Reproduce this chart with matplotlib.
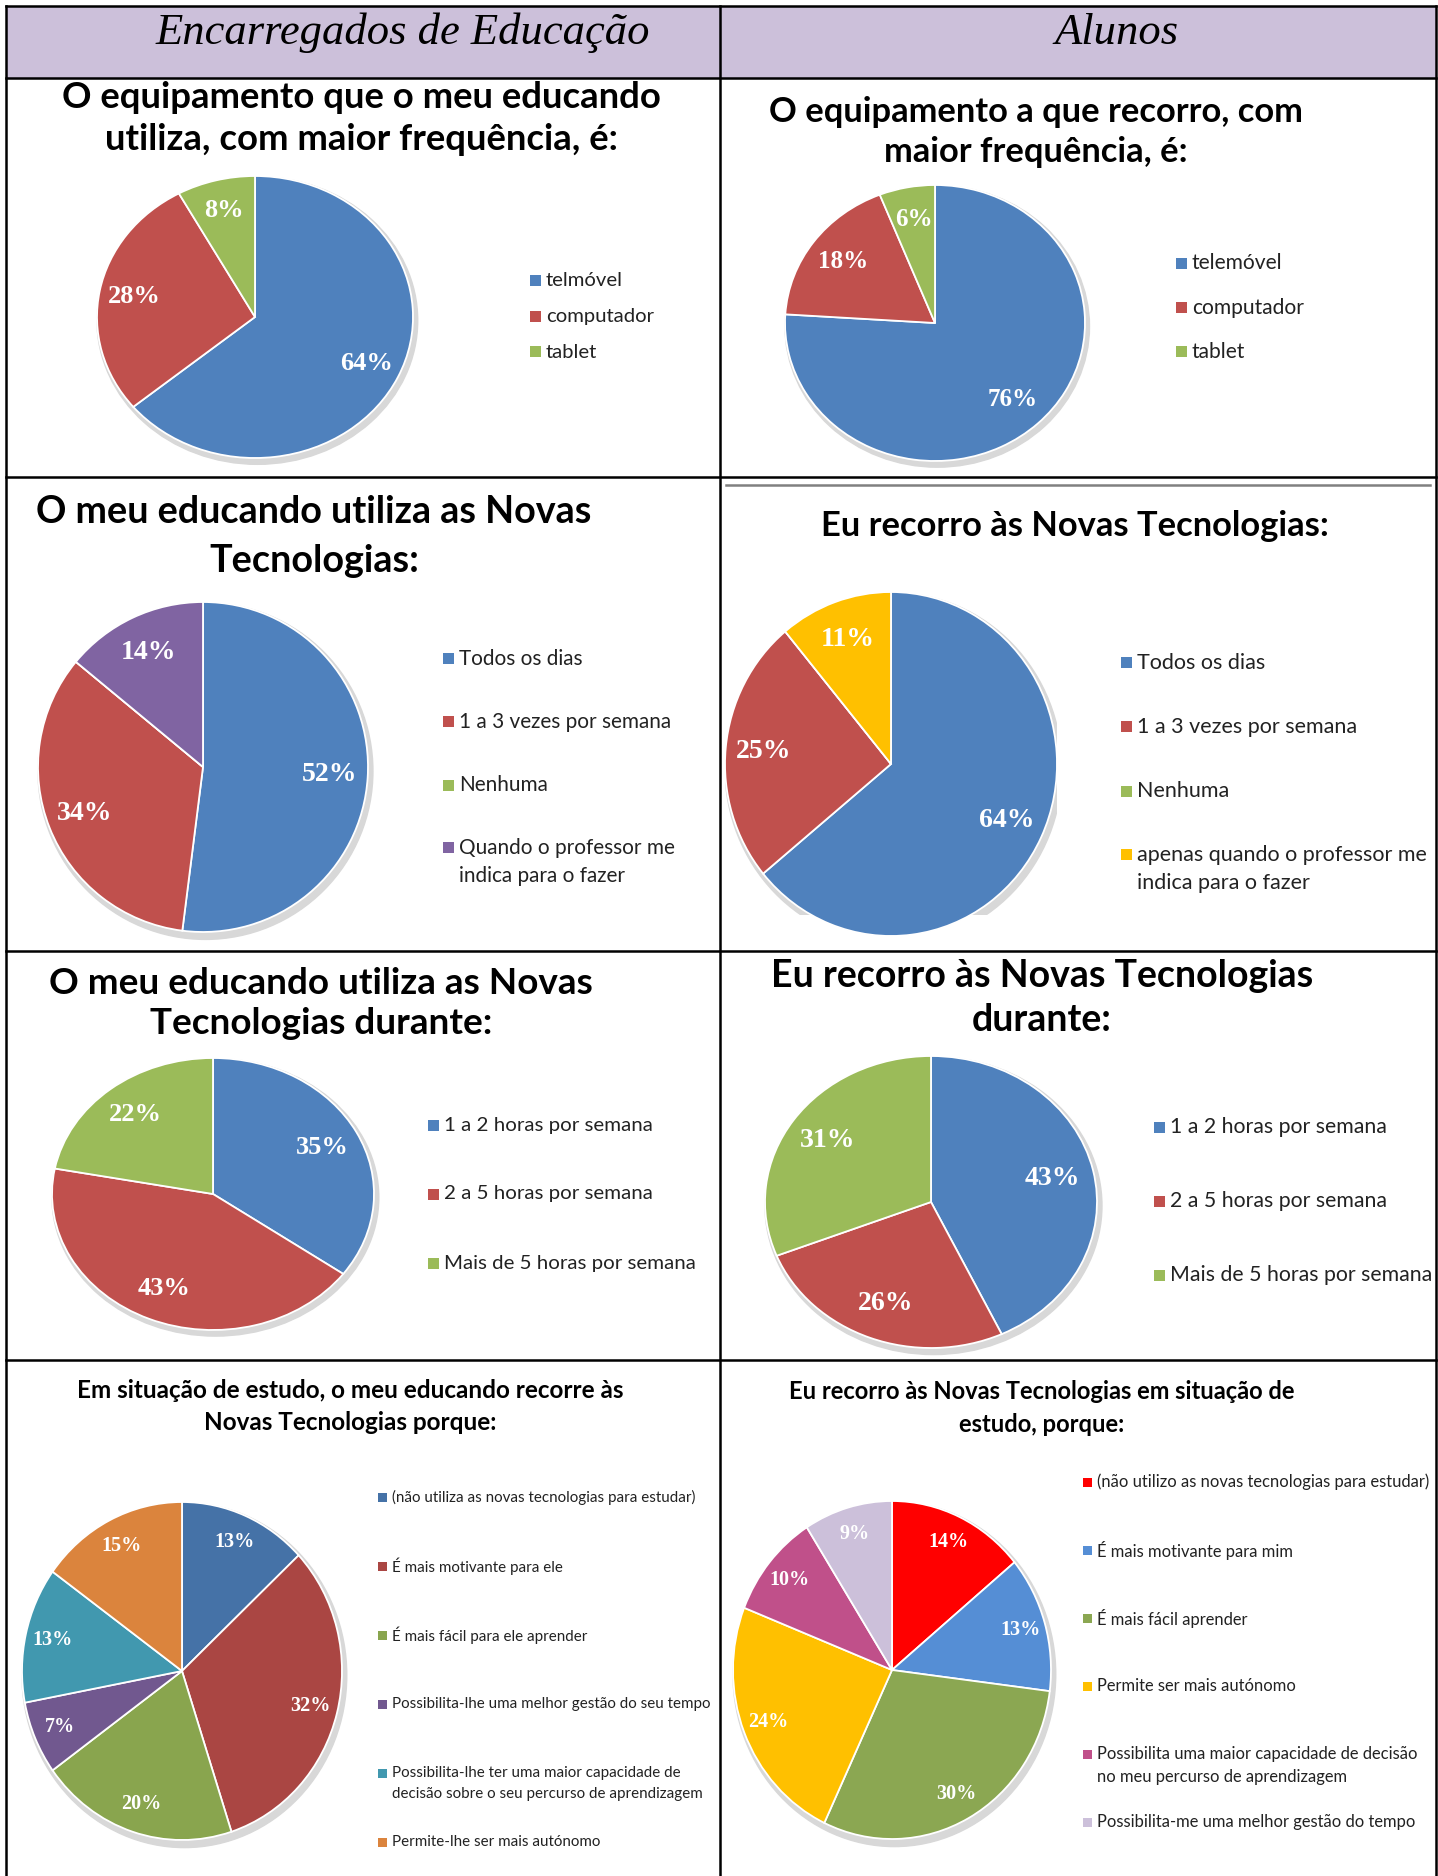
import matplotlib
matplotlib.use('Agg')
import matplotlib.pyplot as plt
from matplotlib.patches import Rectangle, Ellipse
from matplotlib.lines import Line2D
import numpy as np

W, H = 1438, 1876

# ---- dados ----
equip_ee_labels = ['telmóvel', 'computador', 'tablet']
equip_ee_values = [64, 28, 8]
equip_al_labels = ['telemóvel', 'computador', 'tablet']
equip_al_values = [76, 18, 6]

freq_ee_labels = ['Todos os dias', '1 a 3 vezes por semana', 'Nenhuma',
                  'Quando o professor me\nindica para o fazer']
freq_ee_values = [52, 34, 0, 14]
freq_al_labels = ['Todos os dias', '1 a 3 vezes por semana', 'Nenhuma',
                  'apenas quando o professor me\nindica para o fazer']
freq_al_values = [64, 25, 0, 11]

dur_labels = ['1 a 2 horas por semana', '2 a 5 horas por semana', 'Mais de 5 horas por semana']
dur_ee_values = [35, 43, 22]
dur_al_values = [43, 26, 31]

estudo_ee_labels = ['(não utiliza as novas tecnologias para estudar)',
                    'É mais motivante para ele',
                    'É mais fácil para ele aprender',
                    'Possibilita-lhe uma melhor gestão do seu tempo',
                    'Possibilita-lhe ter uma maior capacidade de\ndecisão sobre o seu percurso de aprendizagem',
                    'Permite-lhe ser mais autónomo']
estudo_ee_values = [13, 32, 20, 7, 13, 15]
estudo_al_labels = ['(não utilizo as novas tecnologias para estudar)',
                    'É mais motivante para mim',
                    'É mais fácil aprender',
                    'Permite ser mais autónomo',
                    'Possibilita uma maior capacidade de decisão\nno meu percurso de aprendizagem',
                    'Possibilita-me uma melhor gestão do tempo']
estudo_al_values = [14, 13, 30, 24, 10, 9]

# cores
c3 = ['#4F81BD', '#C0504D', '#9BBB59']
c4_ee = ['#4F81BD', '#C0504D', '#9BBB59', '#8064A2']
c4_al = ['#4F81BD', '#C0504D', '#9BBB59', '#FFC000']
c6_ee = ['#4572A7', '#AA4643', '#89A54E', '#71588F', '#4198AF', '#DB843D']
c6_al = ['#FF0000', '#558ED5', '#8BA752', '#FFC000', '#C0508A', '#CCC0DA']

TITLE_FONT = 'Lato'
LEG_FONT = 'Lato'
PCT_FONT = 'Liberation Serif'

fig = plt.figure(figsize=(W / 100, H / 100), dpi=100)
fig.patch.set_facecolor('white')
renderer = fig.canvas.get_renderer()


def fx(x):
    return x / W


def fy(y):
    return 1 - y / H


def fit_size(text, width, **kw):
    # mede o texto a 20pt e escala para a largura pretendida
    t = fig.text(0, 0, text, fontsize=20, **kw)
    w = t.get_window_extent(renderer).width
    t.remove()
    return 20 * width / w


def titulo(cx, ys, lines, width, **kw):
    size = fit_size(lines[0], width, family=TITLE_FONT, weight='bold', **kw)
    for y, line in zip(ys, lines):
        fig.text(fx(cx), fy(y), line, fontsize=size, family=TITLE_FONT, weight='bold',
                 ha='center', va='center', **kw)


def legenda(x, y0, step, labels, colors, longest, width, sq=11, gap=28):
    size = fit_size(longest, width, family=LEG_FONT)
    for i, (lab, col) in enumerate(zip(labels, colors)):
        y = y0 + i * step
        fig.add_artist(Rectangle((fx(x), fy(y + sq / 2)), sq / W, sq / H,
                                 transform=fig.transFigure, color=col, lw=0))
        for j, line in enumerate(lab.split('\n')):
            fig.text(fx(x + sq + 5), fy(y + j * gap), line, fontsize=size,
                     family=LEG_FONT, ha='left', va='center', color='#222222')


def pizza(cx, cy, rx, ry, values, colors, dist, fsize, bottom=None):
    cut = bottom is not None
    if bottom is None:
        bottom = cy + ry
    ax = fig.add_axes([fx(cx - rx), fy(bottom), 2 * rx / W, (bottom - cy + ry) / H])
    ax.add_patch(Ellipse((0.015, -0.025), 2.03, 2.04, color='#d8d8d8', zorder=0,
                         clip_on=cut))
    wedges, _ = ax.pie(values, colors=colors, startangle=90, counterclock=False,
                       wedgeprops=dict(edgecolor='white', linewidth=1.3))
    for w, v in zip(wedges, values):
        if v == 0:
            continue
        a = np.deg2rad((w.theta1 + w.theta2) / 2)
        ax.text(dist * np.cos(a), dist * np.sin(a), f'{v}%', ha='center', va='center',
                color='white', fontsize=fsize, family=PCT_FONT, weight='bold')
    ax.set_aspect('auto')
    ax.set_xlim(-1, 1)
    ax.set_ylim(-(bottom - cy) / ry, 1)
    ax.axis('off')
    return ax


# ---- tabela ----
fig.add_artist(Rectangle((fx(6), fy(78)), (1436 - 6) / W, 72 / H,
                         transform=fig.transFigure, color='#CCC0DA', lw=0))
lw = 1.8
for y in [6, 78, 477, 951, 1360]:
    fig.add_artist(Line2D([fx(6), fx(1436)], [fy(y), fy(y)], color='black', lw=lw))
for x in [6, 720, 1436]:
    fig.add_artist(Line2D([fx(x), fx(x)], [fy(6), fy(1876)], color='black', lw=lw))
fig.add_artist(Line2D([fx(726), fx(1430)], [fy(485), fy(485)], color='#808080', lw=1.8))

hsize = fit_size('Encarregados de Educação', 494, family='Liberation Serif', style='italic')
fig.text(fx(403), fy(33), 'Encarregados de Educação', fontsize=hsize,
         family='Liberation Serif', style='italic', ha='center', va='center')
fig.text(fx(1116), fy(33), 'Alunos', fontsize=hsize,
         family='Liberation Serif', style='italic', ha='center', va='center')

# ---- linha 1 ----
titulo(361, [98, 140], ['O equipamento que o meu educando', 'utiliza, com maior frequência, é:'], 599)
pizza(255, 317, 158, 141, equip_ee_values, c3, 0.78, 19)
legenda(530, 281, 35.5, equip_ee_labels, c3, 'computador', 108)

titulo(1036, [112, 152], ['O equipamento a que recorro, com', 'maior frequência, é:'], 534)
pizza(935, 323, 150, 138, equip_al_values, c3, 0.76, 18)
legenda(1176, 263, 44.5, equip_al_labels, c3, 'computador', 112)

# ---- linha 2 ----
titulo(314, [512, 561], ['O meu educando utiliza as Novas', 'Tecnologias:'], 556)
pizza(203, 767, 165, 165, freq_ee_values, c4_ee, 0.77, 20)
legenda(443, 659, 63, freq_ee_labels, c4_ee, '1 a 3 vezes por semana', 212)

titulo(1075, [526], ['Eu recorro às Novas Tecnologias:'], 507)
pizza(891, 764, 166, 172, freq_al_values, c4_al, 0.77, 20, bottom=915)
legenda(1121, 663, 64, freq_al_labels, c4_al, 'apenas quando o professor me', 290)

# ---- linha 3 ----
titulo(321, [983, 1024], ['O meu educando utiliza as Novas', 'Tecnologias durante:'], 543)
pizza(213, 1194, 161, 136, dur_ee_values, c3, 0.76, 19)
legenda(428, 1125, 69, dur_labels, c3, 'Mais de 5 horas por semana', 252)

titulo(1042, [976, 1020], ['Eu recorro às Novas Tecnologias', 'durante:'], 542)
pizza(931, 1202, 166, 146, dur_al_values, c3, 0.75, 20)
legenda(1154, 1127, 74, dur_labels, c3, 'Mais de 5 horas por semana', 261)

# ---- linha 4 ----
titulo(350, [1390, 1422], ['Em situação de estudo, o meu educando recorre às', 'Novas Tecnologias porque:'], 547)
pizza(182, 1671, 160, 169, estudo_ee_values, c6_ee, 0.83, 14.5)
legenda(378, 1497, 69, estudo_ee_labels, c6_ee,
        'Possibilita-lhe uma melhor gestão do seu tempo', 317, sq=9, gap=21)

titulo(1042, [1391, 1424], ['Eu recorro às Novas Tecnologias em situação de', 'estudo, porque:'], 506)
pizza(892, 1670, 159, 169, estudo_al_values, c6_al, 0.84, 14.5)
legenda(1083, 1482, 68, estudo_al_labels, c6_al,
        '(não utilizo as novas tecnologias para estudar)', 331, sq=9, gap=23)

fig.savefig('out.png', dpi=100)
